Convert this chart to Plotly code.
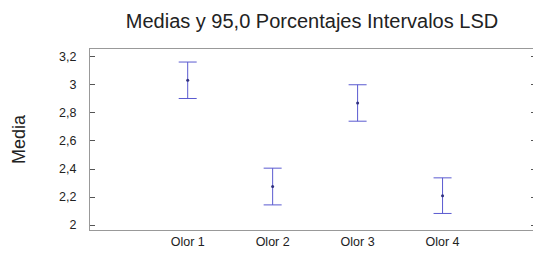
import plotly.graph_objects as go

categories = ["Olor 1", "Olor 2", "Olor 3", "Olor 4"]
means = [3.033, 2.275, 2.871, 2.210]
half_width = [0.130, 0.131, 0.130, 0.127]
y_ticks = [2.0, 2.2, 2.4, 2.6, 2.8, 3.0, 3.2]

xpos = list(range(len(categories)))

fig = go.Figure()
fig.add_trace(go.Scatter(
    x=xpos, y=means, mode="markers",
    marker=dict(size=3, color="#303080"),
    error_y=dict(type="data", array=half_width, visible=True,
                 color="#5a5ad0", thickness=1, width=9),
    showlegend=False,
))

# page body has an 8px margin, so the figure is drawn 8px in from top-left
fig.update_layout(
    width=533, height=245,
    margin=dict(l=82, r=4, t=41, b=20),
    paper_bgcolor="white", plot_bgcolor="white",
    separators=",.",
    font=dict(family="Liberation Sans, Arial, sans-serif", color="#222222", size=12.5),
    title=dict(text="Medias y 95,0 Porcentajes Intervalos LSD",
               x=(312 - 8) / 533, xanchor="center", y=1 - (21 - 8) / 245, yanchor="middle",
               font=dict(size=20, color="#222222")),
    xaxis=dict(range=[-1.15, 4.1], tickvals=xpos, ticktext=categories,
               showgrid=False, zeroline=False, showline=True, mirror=True,
               linecolor="#999999", linewidth=1, ticks="", ticklen=0),
    yaxis=dict(range=[1.965, 3.256], tickvals=y_ticks,
               showgrid=False, zeroline=False, showline=True, mirror="ticks",
               linecolor="#999999", linewidth=1, ticks="inside", ticklen=5,
               tickcolor="#555555", ticklabelstandoff=10,
               title=dict(text="Media", font=dict(size=18), standoff=28)),
)

fig.write_html("out.html")
